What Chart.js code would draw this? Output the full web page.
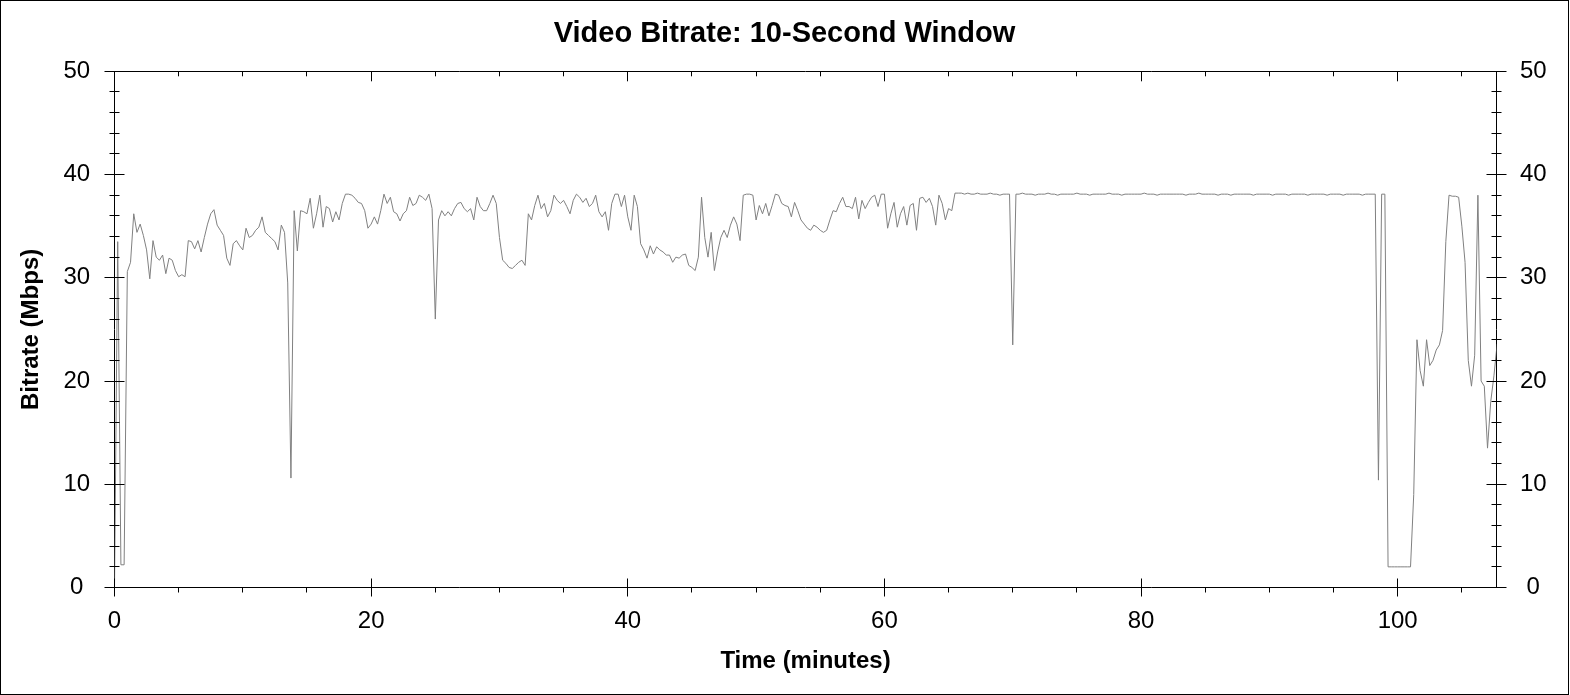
<!DOCTYPE html>
<html>
<head>
<meta charset="utf-8">
<title>Video Bitrate: 10-Second Window</title>
<script src="https://cdn.jsdelivr.net/npm/chart.js@4.4.1/dist/chart.umd.min.js"></script>
<style>
  html, body { margin: 0; padding: 0; background: #fff; overflow: hidden; }
  #frame {
    position: absolute; left: 0; top: 0;
    width: 1569px; height: 695px;
    box-sizing: border-box;
    border: 1px solid #000;
    background: #fff;
  }
  #grafico { display: block; }
</style>
</head>
<body>
<div id="frame">
  <canvas id="grafico" width="1567" height="693"></canvas>
</div>
<script>
// one sample every 15 s (0.25 min)
const stepMinutes = 0.25;

// bitrate in Mbps, 8 samples = 2 minutes per row
const bitrate = [
  0.0, 33.5, 2.2, 2.2, 30.6, 31.5, 36.2, 34.4,      // 0
  35.2, 34.1, 32.7, 29.9, 33.6, 32.0, 31.7, 32.2,   // 2
  30.4, 31.9, 31.7, 30.7, 30.1, 30.3, 30.1, 33.6,   // 4
  33.5, 32.8, 33.6, 32.5, 33.9, 35.2, 36.2, 36.6,   // 6
  35.1, 34.6, 34.1, 31.9, 31.2, 33.3, 33.6, 33.1,   // 8
  32.7, 34.8, 33.9, 34.1, 34.6, 34.9, 35.9, 34.4,   // 10
  34.1, 33.8, 33.5, 32.7, 35.1, 34.4, 29.5, 10.6,   // 12
  36.5, 32.6, 36.5, 36.4, 36.2, 37.7, 34.8, 36.2,   // 14
  38.0, 34.9, 36.9, 36.7, 35.4, 36.4, 35.6, 37.2,   // 16
  38.1, 38.1, 38.0, 37.7, 37.3, 37.2, 36.5, 34.8,   // 18
  35.2, 35.9, 35.2, 36.5, 38.1, 37.2, 37.8, 36.4,   // 20
  36.2, 35.5, 36.2, 36.5, 37.8, 37.0, 37.2, 38.0,   // 22
  37.8, 37.5, 38.1, 36.7, 26.0, 35.6, 36.5, 36.0,   // 24
  36.4, 36.0, 36.7, 37.2, 37.3, 36.7, 36.4, 36.7,   // 26
  35.6, 37.8, 36.9, 36.5, 36.5, 37.2, 38.0, 37.2,   // 28
  33.9, 31.7, 31.4, 31.0, 30.9, 31.2, 31.5, 31.7,   // 30
  31.2, 36.2, 35.6, 37.0, 38.0, 36.7, 37.2, 35.9,   // 32
  36.5, 38.0, 37.5, 37.2, 37.5, 36.9, 36.2, 37.5,   // 34
  38.1, 37.8, 37.3, 37.7, 36.9, 37.2, 38.0, 36.4,   // 36
  35.9, 36.4, 34.6, 37.2, 38.1, 38.1, 36.9, 38.0,   // 38
  35.9, 34.6, 38.0, 36.9, 33.3, 32.7, 31.9, 33.1,   // 40
  32.3, 33.0, 32.7, 32.5, 32.2, 32.2, 31.5, 32.0,   // 42
  31.9, 32.2, 32.3, 31.2, 31.0, 30.7, 32.0, 37.8,   // 44
  33.9, 32.0, 34.4, 30.7, 32.5, 33.9, 34.6, 33.9,   // 46
  35.1, 35.9, 35.2, 33.6, 38.0, 38.1, 38.1, 38.0,   // 48
  35.6, 37.0, 36.2, 37.2, 36.0, 37.0, 38.1, 38.0,   // 50
  37.2, 37.0, 36.9, 35.9, 37.3, 36.5, 35.6, 35.2,   // 52
  34.8, 34.6, 35.1, 34.9, 34.6, 34.4, 34.6, 35.6,   // 54
  36.5, 36.4, 37.2, 37.8, 36.9, 36.9, 36.7, 37.8,   // 56
  35.7, 37.5, 36.7, 37.3, 37.8, 38.0, 36.9, 38.1,   // 58
  38.1, 34.8, 36.2, 37.3, 34.9, 36.2, 36.9, 35.1,   // 60
  37.0, 37.2, 34.6, 37.7, 37.8, 37.3, 37.7, 36.9,   // 62
  35.1, 38.0, 37.2, 35.6, 36.7, 36.5, 38.2, 38.2,   // 64
  38.2, 38.1, 38.2, 38.1, 38.1, 38.2, 38.1, 38.1,   // 66
  38.1, 38.2, 38.1, 38.1, 38.0, 38.1, 38.1, 38.1,   // 68
  23.5, 38.1, 38.1, 38.2, 38.1, 38.1, 38.1, 38.0,   // 70
  38.1, 38.1, 38.1, 38.2, 38.1, 38.1, 38.0, 38.1,   // 72
  38.1, 38.1, 38.1, 38.1, 38.2, 38.1, 38.1, 38.1,   // 74
  38.0, 38.1, 38.1, 38.1, 38.1, 38.1, 38.2, 38.1,   // 76
  38.1, 38.1, 38.0, 38.1, 38.1, 38.1, 38.1, 38.1,   // 78
  38.1, 38.2, 38.1, 38.1, 38.1, 38.0, 38.1, 38.1,   // 80
  38.1, 38.1, 38.1, 38.1, 38.1, 38.1, 38.0, 38.1,   // 82
  38.1, 38.1, 38.2, 38.1, 38.1, 38.1, 38.1, 38.1,   // 84
  38.0, 38.1, 38.1, 38.1, 38.0, 38.1, 38.1, 38.1,   // 86
  38.1, 38.1, 38.1, 38.0, 38.1, 38.1, 38.1, 38.1,   // 88
  38.1, 38.0, 38.1, 38.1, 38.1, 38.1, 38.0, 38.1,   // 90
  38.1, 38.1, 38.1, 38.1, 38.0, 38.1, 38.1, 38.1,   // 92
  38.1, 38.1, 38.0, 38.1, 38.1, 38.1, 38.1, 38.0,   // 94
  38.1, 38.1, 38.1, 38.1, 38.1, 38.0, 38.1, 38.1,   // 96
  38.1, 38.1, 10.4, 38.1, 38.1, 2.0, 2.0, 2.0,      // 98
  2.0, 2.0, 2.0, 2.0, 2.0, 9.0, 24.0, 21.0,         // 100
  19.5, 24.0, 21.5, 22.0, 23.0, 23.5, 24.9, 33.5,   // 102
  38.0, 37.9, 37.9, 37.8, 35.0, 31.5, 22.0, 19.5,   // 104
  22.5, 38.0, 20.0, 19.5, 13.5, 18.0, 20.5, 23.6    // 106
];
const minutes = bitrate.map((_, i) => i * stepMinutes);

const xTickLabels = [0, 20, 40, 60, 80, 100];
const yTickLabels = [0, 10, 20, 30, 40, 50];
const xMax = 107.7;
const xMinorStep = 5;
const yMinorStep = 2;

const fonte = 'Arial, "Liberation Sans", sans-serif';

// marcas dos eixos: maiores cruzam o eixo, menores curtas
const marcasEixos = {
  id: 'marcasEixos',
  afterDraw(chart) {
    const { ctx, chartArea: { left, right, top, bottom }, scales: { x, y } } = chart;
    const px = (v) => Math.floor(x.getPixelForValue(v)) + 0.5;
    const py = (v) => Math.floor(y.getPixelForValue(v)) + 0.5;
    ctx.save();
    ctx.strokeStyle = "#000";
    ctx.lineWidth = 1;
    ctx.beginPath();
    for (let v = 0; v <= xMax; v += xMinorStep) {
      const xp = px(v);
      if (xTickLabels.includes(v)) {
        ctx.moveTo(xp, bottom - 9); ctx.lineTo(xp, bottom + 9);
        ctx.moveTo(xp, top); ctx.lineTo(xp, top + 10);
      } else {
        ctx.moveTo(xp, bottom); ctx.lineTo(xp, bottom + 5);
        ctx.moveTo(xp, top); ctx.lineTo(xp, top + 5);
      }
    }
    for (let v = 0; v <= 50; v += yMinorStep) {
      const yp = py(v);
      const len = yTickLabels.includes(v) ? 10 : 5;
      ctx.moveTo(left - len, yp); ctx.lineTo(left + len, yp);
      ctx.moveTo(right - len, yp); ctx.lineTo(right + len, yp);
    }
    ctx.stroke();
    ctx.restore();
  }
};

const ticksFixos = (lista) => (scale) => {
  scale.ticks = lista.map((v) => ({ value: v }));
};

new Chart(document.getElementById("grafico").getContext("2d"), {
  type: "line",
  data: {
    datasets: [{
      label: "Bitrate",
      data: minutes.map((m, i) => ({ x: m, y: bitrate[i] })),
      borderColor: "#808080",
      borderWidth: 1,
      pointRadius: 0,
      tension: 0,
      fill: false
    }]
  },
  options: {
    responsive: false,
    animation: false,
    events: [],
    layout: { padding: 0 },
    plugins: {
      legend: { display: false },
      tooltip: { enabled: false },
      title: {
        display: true,
        text: "Video Bitrate: 10-Second Window",
        color: "#000",
        font: { family: fonte, size: 29, weight: "bold" },
        padding: { top: 16, bottom: 19.5 }
      }
    },
    scales: {
      x: {
        type: "linear",
        position: "bottom",
        min: 0,
        max: xMax,
        afterBuildTicks: ticksFixos(xTickLabels),
        ticks: { color: "#000", font: { family: fonte, size: 24 }, padding: 19.8, maxRotation: 0 },
        grid: { display: false, drawTicks: false },
        border: { display: true, color: "#000", width: 1 },
        title: {
          display: true,
          text: "Time (minutes)",
          color: "#000",
          font: { family: fonte, size: 24, weight: "bold" },
          padding: { top: 0, bottom: 18.5 }
        },
        afterFit: (s) => { s.height = 106.5; }
      },
      xTop: {
        type: "linear",
        position: "top",
        min: 0,
        max: xMax,
        ticks: { display: false },
        grid: { display: false, drawTicks: false },
        border: { display: true, color: "#000", width: 1 },
        afterFit: (s) => { s.height = 0; }
      },
      y: {
        position: "left",
        min: 0,
        max: 50,
        afterBuildTicks: ticksFixos(yTickLabels),
        ticks: { color: "#000", font: { family: fonte, size: 24 }, padding: 24.4, crossAlign: "center" },
        grid: { display: false, drawTicks: false },
        border: { display: true, color: "#000", width: 1 },
        title: {
          display: true,
          text: "Bitrate (Mbps)",
          color: "#000",
          font: { family: fonte, size: 24, weight: "bold" },
          padding: { top: 15.6, bottom: 0 }
        },
        afterFit: (s) => { s.width = 113.5; }
      },
      yRight: {
        position: "right",
        min: 0,
        max: 50,
        afterBuildTicks: ticksFixos(yTickLabels),
        ticks: { color: "#000", font: { family: fonte, size: 24 }, padding: 23.4, crossAlign: "center" },
        grid: { display: false, drawTicks: false },
        border: { display: true, color: "#000", width: 1 },
        afterFit: (s) => { s.width = 71.5; }
      }
    }
  },
  plugins: [marcasEixos]
});
</script>
</body>
</html>
